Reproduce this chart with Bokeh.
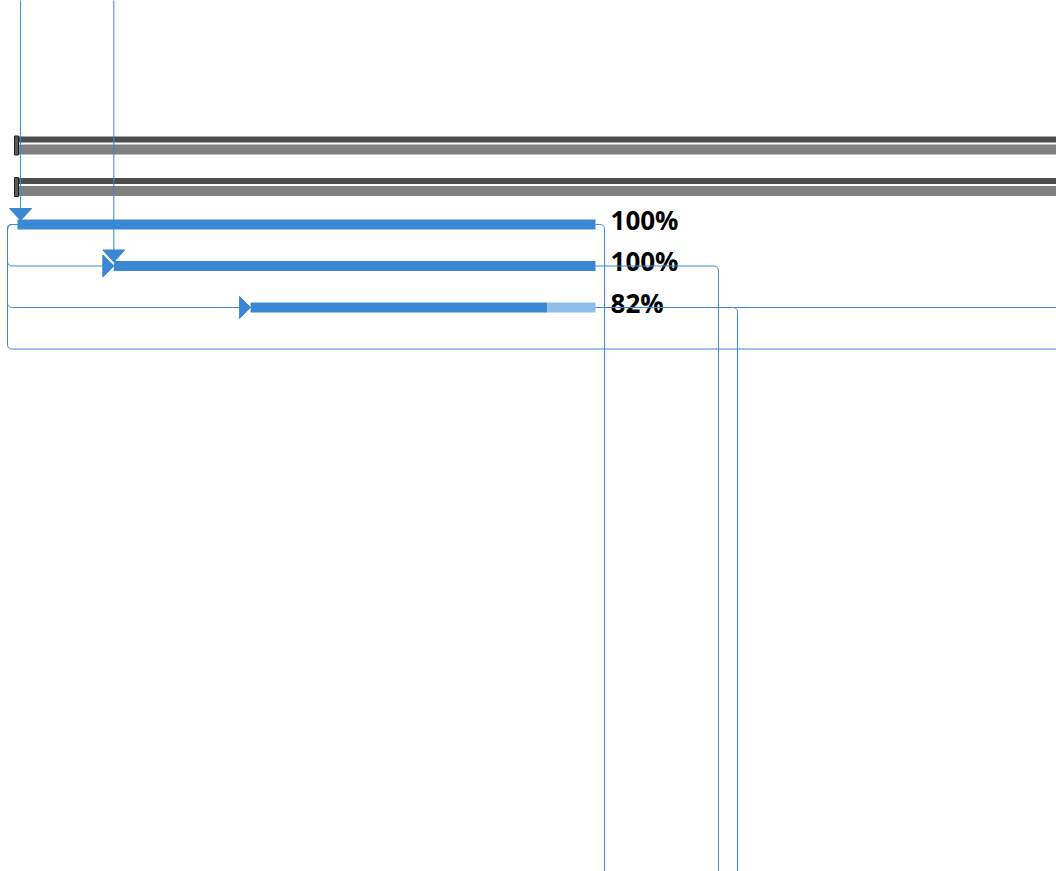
import numpy as np
from bokeh.plotting import figure
from bokeh.models import Range1d
from bokeh.embed import file_html
from bokeh.resources import INLINE
from bokeh.core.properties import value

# ---------------- data ----------------
summary_rows = [0, 1]
summary_start = [0.0, 0.0]
summary_end = [60.0, 60.0]

task_rows = [2, 3, 4]
task_start = [0.0, 5.0, 12.1]
task_end = [30.0, 30.0, 30.0]
task_done = [1.0, 1.0, 0.86]
task_labels = ["100%", "100%", "82%"]

# links arriving from tasks above the visible area (column day, target task)
in_day = [0.16, 5.0]
in_task = [0, 1]
# links leaving to tasks below the visible area (source task, column day)
out_task = [0, 1, 2]
out_day = [30.47, 36.38, 37.37]
# link leaving to the right in the same row
right_task = [2]
right_day = [60.0]
# start-to-start links from task 0
ss_from = 0
ss_to_row = [3, 4, 5]
ss_to_day = [5.0, 12.1, 60.0]

# ---------------- styling / scale ----------------
PXD = 19.267   # pixels per day
PXR = 41.5     # pixels per row
W, H = 1056, 871
BLUE = "#3a87d4"
LIGHT = "#8fbcea"

x0 = -17 / PXD
x_range = Range1d(x0, x0 + W / PXD)
y_top = 2 - 224 / PXR
y_bot = y_top + H / PXR
y_range = Range1d(y_bot, y_top)

p = figure(width=W, height=H, x_range=x_range, y_range=y_range,
           output_backend="svg", toolbar_location=None,
           x_axis_type=None, y_axis_type=None, min_border=0)
p.grid.visible = False
p.outline_line_color = None
p.background_fill_color = "white"


def dx(px):
    return px / PXD


def dy(px):
    return px / PXR


def rounded(points, r=5.0, n=6):
    pts = [(x * PXD, y * PXR) for x, y in points]
    out = [pts[0]]
    for i in range(1, len(pts) - 1):
        a, b, c = np.array(pts[i - 1]), np.array(pts[i]), np.array(pts[i + 1])
        u = (a - b) / np.linalg.norm(a - b)
        v = (c - b) / np.linalg.norm(c - b)
        p1 = b + u * r
        p2 = b + v * r
        for t in np.linspace(0, 1, n):
            q = (1 - t) ** 2 * p1 + 2 * (1 - t) * t * b + t ** 2 * p2
            out.append(tuple(q))
    out.append(pts[-1])
    xs = [q[0] / PXD for q in out]
    ys = [q[1] / PXR for q in out]
    return xs, ys


# summary bars
for r, s, e in zip(summary_rows, summary_start, summary_end):
    p.hbar(y=[r - dy(2)], left=[s], right=[e], height=dy(6),
           fill_color="#4d4d4d", line_color=None)
    p.hbar(y=[r + dy(8)], left=[s], right=[e], height=dy(10),
           fill_color="#808080", line_color=None)
    p.hbar(y=[r + dy(4)], left=[s - dx(3)], right=[s + dx(1)], height=dy(19),
           fill_color="#5a5a5a", line_color="#222222", line_width=1)

# task bars
for r, s, e, d in zip(task_rows, task_start, task_end, task_done):
    m = s + (e - s) * d
    p.hbar(y=[r], left=[s], right=[m], height=dy(10), fill_color=BLUE, line_color=None)
    if d < 1:
        p.hbar(y=[r], left=[m], right=[e], height=dy(10), fill_color=LIGHT, line_color=None)

# labels
p.text(x=[e + dx(15) for e in task_end], y=[r - dy(5) for r in task_rows], text=task_labels,
       text_font=value("Open Sans"), text_font_style="bold", text_font_size="26px",
       text_baseline="middle", text_align="left", text_color="black")

xs_all, ys_all = [], []
ax, ay = [], []

# incoming from above
for d, t in zip(in_day, in_task):
    r = task_rows[t]
    tip = r - dy(4)
    xs_all.append([d, d])
    ys_all.append([y_top - 0.1, tip - dy(6)])
    ax.append([d - dx(11), d + dx(11), d])
    ay.append([tip - dy(12), tip - dy(12), tip])

# outgoing downward
for t, d in zip(out_task, out_day):
    r = task_rows[t]
    xs, ys = rounded([(task_end[t], r), (d, r), (d, y_bot + 0.1)])
    xs_all.append(xs)
    ys_all.append(ys)

# outgoing to the right
for t, d in zip(right_task, right_day):
    r = task_rows[t]
    xs_all.append([task_end[t], d])
    ys_all.append([r, r])

# start-to-start loop
loop_x = task_start[ss_from] - dx(10)
r0 = task_rows[ss_from]
for rr, dd in zip(ss_to_row, ss_to_day):
    end_x = dd - dx(10)
    xs, ys = rounded([(task_start[ss_from], r0), (loop_x, r0), (loop_x, rr), (end_x, rr)])
    xs_all.append(xs)
    ys_all.append(ys)
    ax.append([dd - dx(11), dd - dx(11), dd])
    ay.append([rr - dy(11), rr + dy(11), rr])

p.multi_line(xs=xs_all, ys=ys_all, line_color=BLUE, line_width=1)
p.patches(xs=ax, ys=ay, fill_color=BLUE, line_color=BLUE, line_width=1)

open("out.html", "w").write(file_html(p, INLINE))
